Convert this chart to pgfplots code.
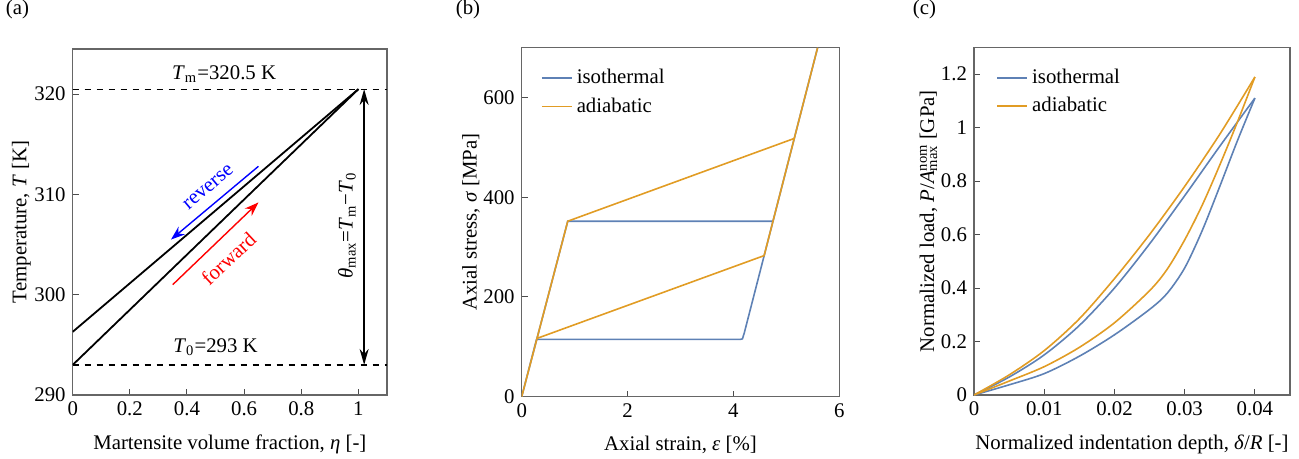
\documentclass[border=0pt]{standalone}
\usepackage{fontspec}
\setmainfont{Liberation Serif}
\usepackage{pgfplots}
\pgfplotsset{compat=1.18}
\usetikzlibrary{arrows.meta}
\definecolor{MBlue}{HTML}{5E81B5}
\definecolor{MOrange}{HTML}{E19C24}
\newcommand\lbl{\fontsize{10.4}{12.5}\selectfont}

\pgfplotsset{
  panel/.style={
    scale only axis,
    anchor=south west,
    axis line style={black!60,line width=0.7pt},
    tick style={black!70,line width=0.5pt},
    major tick length=3pt,
    tick pos=left,
    tick align=inside,
    /pgf/number format/assume math mode=true,
    tick label style={font=\lbl},
    label style={font=\lbl},
    xlabel style={yshift=-2.5pt},
    ylabel style={yshift=-5pt},
    legend style={draw=none,fill=none,font=\lbl,
      row sep=1.5pt,inner sep=0pt},
    legend cell align=left,
    legend image code/.code={\draw[#1] (0pt,0pt) -- (15pt,0pt);},
  },
}

\begin{document}
\begin{tikzpicture}[font=\lbl]
\useasboundingbox (0,0) rectangle (649.5pt,-229.5pt);

\node[inner sep=0pt] at (8.75pt,-4.6pt) {(a)};
\node[inner sep=0pt] at (234pt,-4.6pt) {(b)};
\node[inner sep=0pt] at (462.25pt,-4.6pt) {(c)};

% (a) temperature vs martensite fraction
\begin{axis}[panel,
  at={(36.35pt,-197.5pt)},
  width=157.15pt,height=173pt,
  xmin=0,xmax=1.1,ymin=290,ymax=324.5,
  xtick={0,0.2,0.4,0.6,0.8,1},
  ytick={290,300,310,320},
  xlabel={Martensite volume fraction, \textit{η} [-]},
  ylabel={Temperature, \textit{T} [K]},
]
\addplot[black,dashed,line width=0.6pt] coordinates {(0,320.5) (1.1,320.5)};
\addplot[black,dashed,line width=0.6pt] coordinates {(0,293) (1.1,293)};
\addplot[black,line width=0.9pt] coordinates {(0,296.3) (1,320.5)};
\addplot[black,line width=0.9pt] coordinates {(0,293) (1,320.5)};
\draw[black,line width=0.8pt,{Stealth[length=8pt,width=4.5pt]}-{Stealth[length=8pt,width=4.5pt]}]
  (1.02,320.5) -- (1.02,293);
\draw[blue,line width=0.7pt,-{Stealth[length=7pt,width=5pt]}] (0.65,312.8) -- (0.344,305.5);
\draw[red,line width=0.7pt,-{Stealth[length=7pt,width=5pt]}] (0.35,301.0) -- (0.65,309.2);
\node[blue,rotate=40] at (0.475,310.7) {reverse};
\node[red,rotate=43] at (0.545,303.6) {forward};
\node at (0.53,322.0) {\textit{T}\textsubscript{m}=320.5 K};
\node at (0.5,294.8) {\textit{T}\textsubscript{0}=293 K};
\node[rotate=90] at (0.96,306.9) {\textit{θ}\textsubscript{max}=\textit{T}\textsubscript{m}−\textit{T}\textsubscript{0}};
\end{axis}

% (b) stress-strain
\begin{axis}[panel,
  at={(260.85pt,-198.35pt)},
  width=158.8pt,height=174.5pt,
  xmin=0,xmax=6,ymin=0,ymax=700,
  xtick={0,2,4,6},
  ytick={0,200,400,600},
  xlabel={Axial strain, \textit{ε} [\%]},
  ylabel={Axial stress, \textit{σ} [MPa]},
  legend style={at={(0.06,0.95)},anchor=north west},
]
\addlegendimage{MBlue,line width=0.8pt}
\addlegendentry{isothermal}
\addlegendimage{MOrange,line width=0.8pt}
\addlegendentry{adiabatic}
\addplot[MBlue,line width=0.8pt,forget plot] coordinates {
  (0,0) (0.87,352) (4.747,352) (5.59,700) (4.205,128) (4.17,116) (4.13,115)
  (0.28,115) (0,0)};
\addplot[MOrange,line width=0.8pt,forget plot] coordinates {
  (0,0) (0.87,352) (5.149,518) (5.59,700) (5.149,518) (4.58,283) (0.29,117) (0,0)};
\end{axis}

% (c) indentation load-depth
\begin{axis}[panel,
  at={(487pt,-197.5pt)},
  width=158pt,height=173.85pt,
  xmin=0,xmax=0.045,ymin=0,ymax=1.3,
  xtick={0,0.01,0.02,0.03,0.04},
  xticklabels={0,0.01,0.02,0.03,0.04},
  scaled x ticks=false,
  ytick={0,0.2,0.4,0.6,0.8,1,1.2},
  yticklabels={0,0.2,0.4,0.6,0.8,1,1.2},
  xlabel={Normalized indentation depth, \textit{δ}/\textit{R} [-]},
  ylabel={Normalized load, \textit{P}/\textit{A}\rlap{\textsuperscript{nom}}\textsubscript{max} [GPa]},
  legend style={at={(0.07,0.95)},anchor=north west},
]
\addlegendimage{MBlue,line width=0.8pt}
\addlegendentry{isothermal}
\addlegendimage{MOrange,line width=0.8pt}
\addlegendentry{adiabatic}
\addplot[MBlue,line width=0.8pt,smooth,forget plot] coordinates {
  (0,0) (0.005,0.067) (0.01,0.15) (0.015,0.26) (0.02,0.40) (0.025,0.565)
  (0.03,0.745) (0.035,0.93) (0.04,1.11)};
\addplot[MOrange,line width=0.8pt,smooth,forget plot] coordinates {
  (0,0) (0.005,0.075) (0.01,0.166) (0.015,0.285) (0.02,0.435) (0.025,0.6)
  (0.03,0.78) (0.035,0.975) (0.04,1.189)};
\addplot[MBlue,line width=0.8pt,smooth,forget plot] coordinates {
  (0,0) (0.005,0.038) (0.01,0.08) (0.015,0.145) (0.02,0.225) (0.025,0.32)
  (0.0275,0.38) (0.03,0.475) (0.0325,0.615) (0.035,0.78) (0.0375,0.95) (0.04,1.11)};
\addplot[MOrange,line width=0.8pt,smooth,forget plot] coordinates {
  (0,0) (0.005,0.052) (0.01,0.106) (0.015,0.178) (0.02,0.27) (0.025,0.39)
  (0.0275,0.47) (0.03,0.58) (0.0325,0.71) (0.035,0.86) (0.0375,1.02) (0.04,1.189)};
\end{axis}
\end{tikzpicture}
\end{document}
